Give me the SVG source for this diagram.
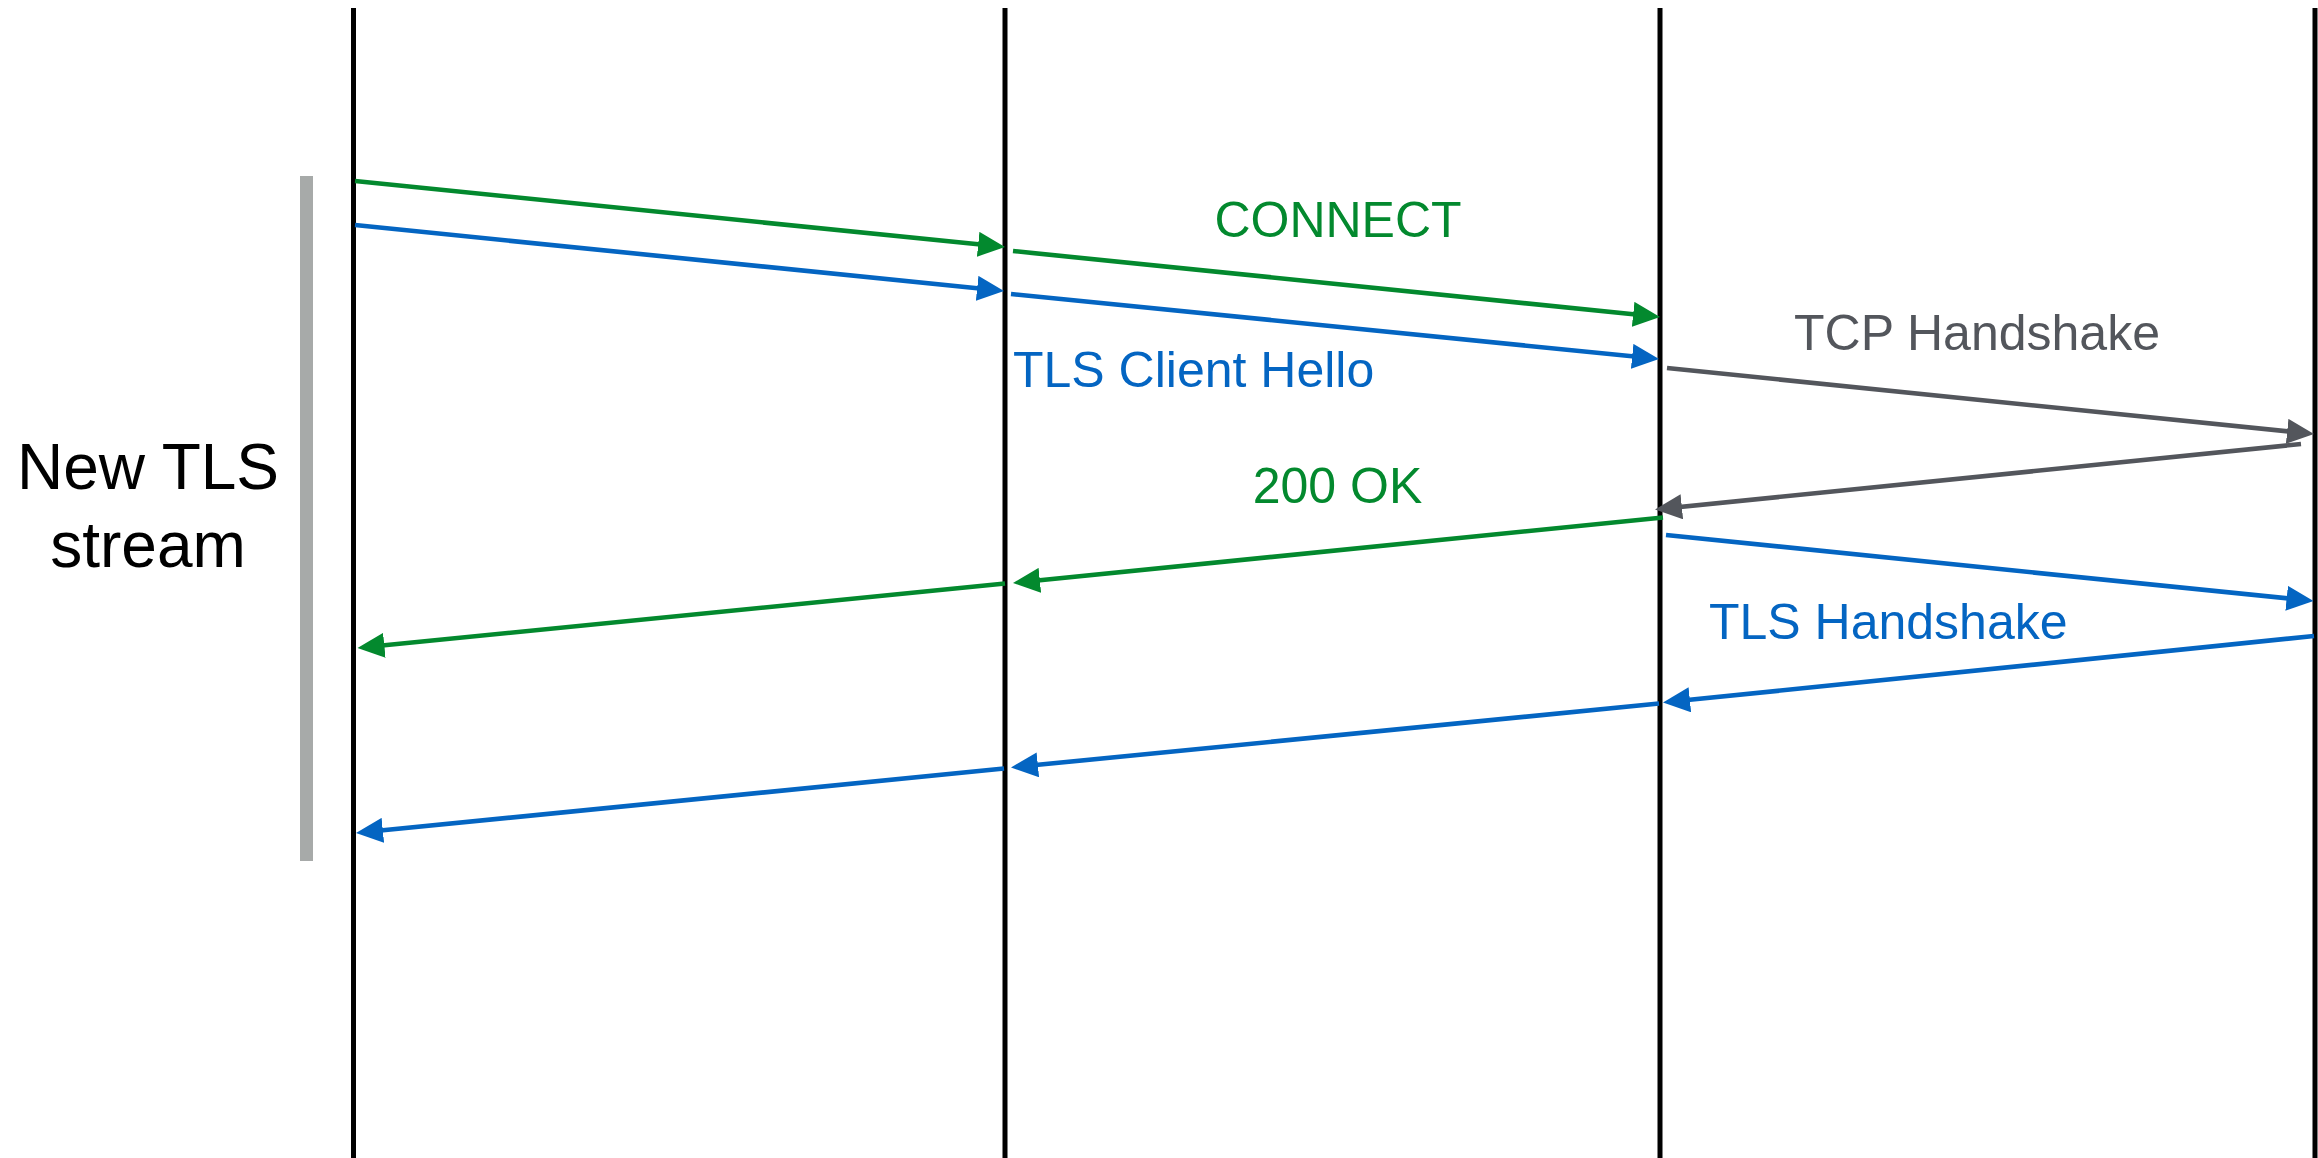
<svg xmlns="http://www.w3.org/2000/svg" width="2318" height="1158" viewBox="0 0 2318 1158">
  <style>
    .life { stroke: #000000; stroke-width: 5; fill: none; }
    .msg { stroke-width: 4.6; fill: none; stroke-linecap: butt; }
    .green { stroke: #03892E; }
    .blue { stroke: #0465C2; }
    .gray { stroke: #53565C; }
    .lbl { font-family: "Liberation Sans", Arial, Helvetica, sans-serif; font-size: 50px; }
    .side { font-family: "Liberation Sans", Arial, Helvetica, sans-serif; font-size: 64px; fill: #000000; text-anchor: middle; }
  </style>
  <defs>
    <marker id="ah-green" markerUnits="userSpaceOnUse" markerWidth="27" markerHeight="25" viewBox="0 0 27 25" refX="10" refY="12.5" orient="auto">
      <path d="M0,0 L27,12.5 L0,25 Z" fill="#03892E"/>
    </marker>
    <marker id="ah-blue" markerUnits="userSpaceOnUse" markerWidth="27" markerHeight="25" viewBox="0 0 27 25" refX="10" refY="12.5" orient="auto">
      <path d="M0,0 L27,12.5 L0,25 Z" fill="#0465C2"/>
    </marker>
    <marker id="ah-gray" markerUnits="userSpaceOnUse" markerWidth="27" markerHeight="25" viewBox="0 0 27 25" refX="10" refY="12.5" orient="auto">
      <path d="M0,0 L27,12.5 L0,25 Z" fill="#53565C"/>
    </marker>
  </defs>
  <rect width="2318" height="1158" fill="#FFFFFF"/>

  <g id="lifeline-client"><line class="life" x1="353.5" y1="8" x2="353.5" y2="1158"/></g>
  <g id="lifeline-proxy1"><line class="life" x1="1005" y1="8" x2="1005" y2="1158"/></g>
  <g id="lifeline-proxy2"><line class="life" x1="1660" y1="8" x2="1660" y2="1158"/></g>
  <g id="lifeline-server"><line class="life" x1="2315" y1="8" x2="2315" y2="1158"/></g>

  <g id="stream-bracket">
    <rect x="300" y="176" width="13" height="685" fill="#A7AAA9"/>
    <text class="side" x="148" y="489">New TLS</text>
    <text class="side" x="148" y="567">stream</text>
  </g>

  <g id="connectors">
    <line class="msg green" x1="355" y1="181" x2="988.1" y2="245.3" marker-end="url(#ah-green)"/>
    <line class="msg blue" x1="355" y1="225" x2="987.1" y2="289.3" marker-end="url(#ah-blue)"/>
    <line class="msg green" x1="1013" y1="251" x2="1643.1" y2="315.3" marker-end="url(#ah-green)"/>
    <line class="msg blue" x1="1011" y1="294" x2="1642.1" y2="357.3" marker-end="url(#ah-blue)"/>
    <line class="msg gray" x1="1667" y1="368" x2="2297.1" y2="432.3" marker-end="url(#ah-gray)"/>
    <line class="msg gray" x1="2301" y1="444" x2="1671.9" y2="507.8" marker-end="url(#ah-gray)"/>
    <line class="msg green" x1="1663" y1="517.5" x2="1029.9" y2="581.3" marker-end="url(#ah-green)"/>
    <line class="msg green" x1="1005" y1="583.5" x2="374.4" y2="646.3" marker-end="url(#ah-green)"/>
    <line class="msg blue" x1="1666" y1="535" x2="2296.6" y2="599.3" marker-end="url(#ah-blue)"/>
    <line class="msg blue" x1="2314" y1="636" x2="1679.9" y2="700.8" marker-end="url(#ah-blue)"/>
    <line class="msg blue" x1="1659" y1="703.5" x2="1027.9" y2="765.8" marker-end="url(#ah-blue)"/>
    <line class="msg blue" x1="1004" y1="768.5" x2="372.9" y2="831.3" marker-end="url(#ah-blue)"/>
  </g>

  <g id="labels">
    <text class="lbl" x="1338" y="237" fill="#03892E" text-anchor="middle">CONNECT</text>
    <text class="lbl" x="1013" y="387" fill="#0465C2">TLS Client Hello</text>
    <text class="lbl" x="1977" y="350" fill="#53565C" text-anchor="middle">TCP Handshake</text>
    <text class="lbl" x="1337.5" y="503" fill="#03892E" text-anchor="middle">200 OK</text>
    <text class="lbl" x="1709" y="639" fill="#0465C2">TLS Handshake</text>
  </g>
</svg>
